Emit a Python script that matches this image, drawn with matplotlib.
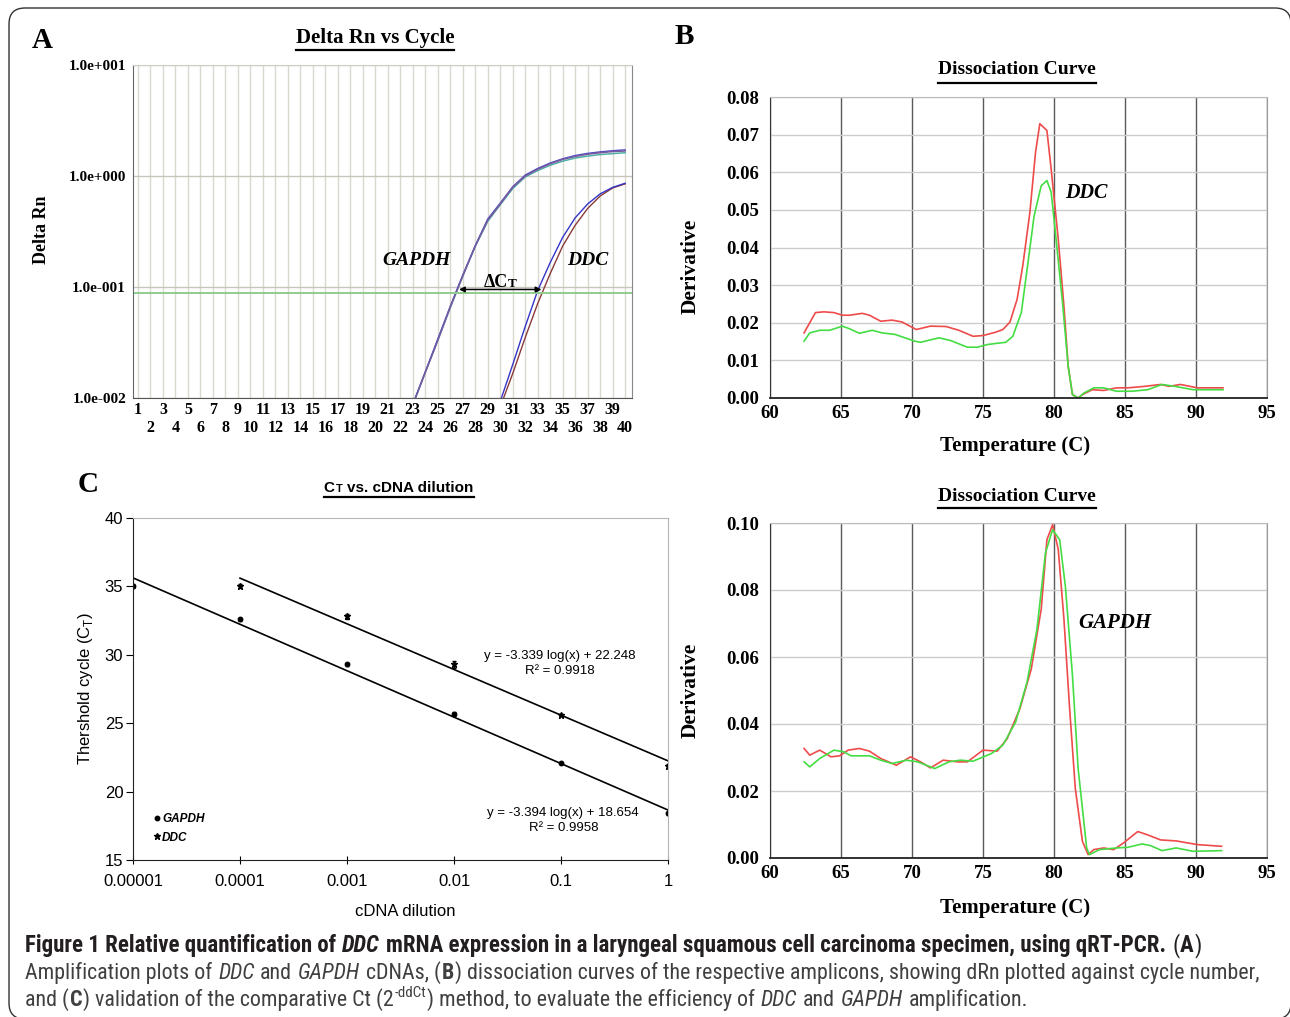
import numpy as np
import matplotlib
matplotlib.use('Agg')
import matplotlib.pyplot as plt
from matplotlib import font_manager
from matplotlib.patches import FancyBboxPatch
from matplotlib.lines import Line2D
from matplotlib.ticker import NullLocator, FixedLocator
from matplotlib.transforms import IdentityTransform

# ---- panel A: amplification plot (delta Rn per cycle) ----
cycles_gapdh = list(range(23, 41))
gapdh_rep1 = [0.0087, 0.017, 0.033, 0.066, 0.126, 0.234, 0.40, 0.56, 0.79, 1.00,
              1.15, 1.29, 1.41, 1.50, 1.57, 1.62, 1.66, 1.68]
gapdh_rep2 = [0.0086, 0.017, 0.033, 0.065, 0.125, 0.232, 0.39, 0.55, 0.77, 0.98,
              1.12, 1.25, 1.36, 1.45, 1.51, 1.56, 1.59, 1.62]
gapdh_rep3 = [0.0088, 0.0172, 0.034, 0.067, 0.128, 0.236, 0.41, 0.57, 0.80, 1.02,
              1.17, 1.31, 1.43, 1.53, 1.60, 1.65, 1.69, 1.72]
cycles_ddc = list(range(30, 41))
ddc_rep1 = [0.0093, 0.020, 0.044, 0.093, 0.166, 0.28, 0.42, 0.56, 0.69, 0.79, 0.86]
ddc_rep2 = [0.0083, 0.0166, 0.035, 0.071, 0.132, 0.234, 0.36, 0.51, 0.66, 0.78, 0.85]
threshold = 0.088
ct_gapdh, ct_ddc = 26.7, 33.3

# ---- panel B: DDC dissociation curve ----
b_red_t = [62.4, 63.2, 63.8, 64.5, 65.1, 65.6, 66.5, 67.0, 67.8, 68.6, 69.3, 70.3, 71.3,
           72.4, 73.3, 74.3, 75.0, 75.9, 76.4, 76.9, 77.4, 77.8, 78.3, 78.7, 79.0, 79.5,
           79.8, 80.3, 80.7, 81.0, 81.3, 81.7, 82.0, 82.7, 83.5, 84.4, 85.2, 86.4, 87.5,
           88.1, 88.9, 90.1, 91.9]
b_red_v = [0.0173, 0.0227, 0.0229, 0.0227, 0.022, 0.022, 0.0225, 0.022, 0.0204, 0.0207,
           0.0202, 0.0182, 0.0191, 0.019, 0.018, 0.0164, 0.0166, 0.0175, 0.0182, 0.0202,
           0.0262, 0.0351, 0.0493, 0.0653, 0.0729, 0.0711, 0.0609, 0.0422, 0.0244, 0.0084,
           0.0009, 0.0, 0.0009, 0.0022, 0.002, 0.0027, 0.0027, 0.0031, 0.0036, 0.0031,
           0.0036, 0.0027, 0.0027]
b_grn_t = [62.4, 62.8, 63.5, 64.2, 65.1, 65.6, 66.3, 67.2, 67.9, 68.8, 70.2, 70.6, 71.9,
           72.7, 73.9, 74.6, 75.3, 75.9, 76.6, 77.1, 77.7, 78.2, 78.6, 79.1, 79.5, 79.8,
           80.1, 80.6, 81.0, 81.3, 81.7, 82.1, 82.8, 83.5, 84.4, 85.5, 86.6, 87.6, 88.5,
           89.8, 91.9]
b_grn_v = [0.0151, 0.0173, 0.018, 0.018, 0.0191, 0.0184, 0.0172, 0.018, 0.0173, 0.0169,
           0.0151, 0.0148, 0.016, 0.0153, 0.0135, 0.0135, 0.0142, 0.0145, 0.0148, 0.0164,
           0.0227, 0.0369, 0.0484, 0.0564, 0.0578, 0.0547, 0.044, 0.0253, 0.0084, 0.0009,
           0.0, 0.0013, 0.0027, 0.0027, 0.0018, 0.0018, 0.0022, 0.0036, 0.0031, 0.0022,
           0.0022]

# ---- panel D: GAPDH dissociation curve ----
d_red_t = [62.4, 62.8, 63.5, 64.3, 64.9, 65.5, 66.3, 67.0, 67.8, 68.9, 69.9, 70.6, 71.3,
           72.2, 73.2, 73.9, 75.0, 76.0, 76.7, 77.6, 78.4, 79.1, 79.5, 79.9, 80.3, 80.7,
           81.1, 81.5, 82.0, 82.4, 82.8, 83.5, 84.2, 84.9, 85.9, 86.6, 87.5, 88.6, 90.1,
           91.8]
d_red_v = [0.0327, 0.0307, 0.0322, 0.0302, 0.0305, 0.0322, 0.0327, 0.0319, 0.0297, 0.0277,
           0.0302, 0.0287, 0.0269, 0.0292, 0.0287, 0.0287, 0.0322, 0.0319, 0.0356, 0.0446,
           0.0564, 0.0743, 0.095, 0.0995, 0.0921, 0.0713, 0.0446, 0.0208, 0.005, 0.001,
           0.0025, 0.003, 0.0025, 0.0045, 0.0079, 0.0069, 0.0054, 0.0051, 0.004, 0.0035]
d_grn_t = [62.4, 62.8, 63.5, 64.5, 65.2, 65.7, 67.0, 67.8, 68.6, 69.6, 70.4, 71.6, 72.6,
           73.4, 74.3, 75.6, 76.4, 77.3, 78.1, 78.8, 79.4, 79.9, 80.4, 80.8, 81.3, 81.7,
           82.3, 82.5, 83.2, 84.4, 85.2, 86.2, 86.8, 87.6, 88.6, 89.8, 91.8]
d_grn_v = [0.0287, 0.0272, 0.0297, 0.0322, 0.0317, 0.0305, 0.0305, 0.0292, 0.0282, 0.0292,
           0.0287, 0.0267, 0.0287, 0.0292, 0.0289, 0.0312, 0.0337, 0.0406, 0.0525, 0.0683,
           0.0911, 0.098, 0.095, 0.0812, 0.0545, 0.0267, 0.003, 0.001, 0.0025, 0.003,
           0.0032, 0.0042, 0.0037, 0.0022, 0.003, 0.002, 0.0022]

# ---- panel C: Ct vs cDNA dilution ----
dilution = [1e-5, 1e-4, 1e-3, 1e-2, 1e-1, 1]
dil_labels = ['0.00001', '0.0001', '0.001', '0.01', '0.1', '1']
gapdh_ct = [35.0, 32.6, 29.3, 25.7, 22.1, 18.4]
gapdh_err = [0.15, 0.1, 0.1, 0.15, 0.1, 0.1]
ddc_dil = [1e-4, 1e-3, 1e-2, 1e-1, 1]
ddc_ct = [35.0, 32.8, 29.3, 25.6, 21.9]
ddc_err = [0.15, 0.15, 0.25, 0.1, 0.15]
gapdh_fit = (-3.394, 18.654, 0.9958)
ddc_fit = (-3.339, 22.248, 0.9918)

W, H = 1290, 1017
fig = plt.figure(figsize=(W / 100, H / 100), dpi=100)
renderer = fig.canvas.get_renderer()
SERIF = 'Liberation Serif'
SANS = 'Liberation Sans'
names = {f.name for f in font_manager.fontManager.ttflist}
CAP = 'DejaVu Sans'
for cand in ['Liberation Sans Narrow', 'Roboto Condensed', 'Open Sans Condensed', 'Open Sans']:
    if cand in names:
        CAP = cand
        break


def box(l, t, r, b):
    return [l / W, 1 - b / H, (r - l) / W, (b - t) / H]


def ftext(x, y, s, **kw):
    kw.setdefault('ha', 'center')
    kw.setdefault('va', 'center')
    return fig.text(x / W, 1 - y / H, s, **kw)


def tw(t):
    return t.get_window_extent(renderer).width


def put_runs(x, y, runs, family, color='black', center=False):
    # runs: (text, size, weight, style, rise_px)
    texts = []
    x0 = x
    for s, size, weight, style, rise in runs:
        kw = dict(fontsize=size, family=family, weight=weight, style=style, color=color)
        a = fig.text(0, 0, 'a a', **kw)
        b = fig.text(0, 0, 'aa', **kw)
        sp = tw(a) - tw(b)
        a.remove()
        b.remove()
        core = s.strip(' ')
        lead = len(s) - len(s.lstrip(' '))
        trail = len(s) - len(s.rstrip(' '))
        x += lead * sp
        t = fig.text(x / W, 1 - (y - rise) / H, core, ha='left', va='baseline', **kw)
        texts.append(t)
        x += tw(t) + trail * sp + 0.8
    width = x - x0
    if center:
        for t in texts:
            t.set_x(t.get_position()[0] - width / 2 / W)
    return texts, width


def underline(t, y, lw=1.6):
    bb = t.get_window_extent(renderer)
    fig.add_artist(Line2D([bb.x0 / W, bb.x1 / W], [1 - y / H] * 2, color='black', lw=lw))


# border of the whole figure
fig.add_artist(FancyBboxPatch((9, -2), 1282, 1011, boxstyle='round,pad=0,rounding_size=16',
                              transform=IdentityTransform(), fill=False, ec='#333333', lw=1.0))

# ================= A =================
axA = fig.add_axes(box(133, 65, 632, 398))
axA.set_yscale('log')
axA.set_ylim(0.01, 10)
axA.set_xlim(0.6, 40.55)
axA.yaxis.set_major_locator(FixedLocator([0.01, 0.1, 1, 10]))
axA.yaxis.set_minor_locator(NullLocator())
axA.set_yticklabels(['1.0e-002', '1.0e-001', '1.0e+000', '1.0e+001'],
                    family=SERIF, weight='bold', fontsize=11)
odd = list(range(1, 41, 2))
even = list(range(2, 41, 2))
axA.set_xticks(odd)
axA.set_xticklabels([str(c) for c in odd], family=SERIF, weight='bold', fontsize=11.5)
axA.set_xticks(even, minor=True)
axA.set_xticklabels([str(c) for c in even], minor=True, family=SERIF, weight='bold', fontsize=11.5)
axA.tick_params(axis='x', which='major', length=0, pad=3)
axA.tick_params(axis='x', which='minor', length=0, pad=16)
axA.tick_params(axis='y', length=0, pad=5)
axA.grid(axis='x', which='both', color='#d8d8ce', lw=1)
axA.grid(axis='y', color='#c6c6bc', lw=1)
axA.set_axisbelow(True)
for side, c in [('left', '#666666'), ('bottom', '#555555'), ('top', '#cfcfc8'), ('right', '#888888')]:
    axA.spines[side].set_color(c)
axA.plot(cycles_gapdh, gapdh_rep2, color='#4fb0a8', lw=1.1)
axA.plot(cycles_gapdh, gapdh_rep3, color='#4b4bc8', lw=1.0)
axA.plot(cycles_gapdh, gapdh_rep1, color='#7a5a9e', lw=1.1)
axA.plot(cycles_ddc, ddc_rep2, color='#8a3a3a', lw=1.0)
axA.plot(cycles_ddc, ddc_rep1, color='#3535c8', lw=1.0)
axA.axhline(threshold, color='#8fcc8f', lw=1.4)
axA.annotate('', xy=(ct_gapdh, 0.095), xytext=(ct_ddc, 0.095),
             arrowprops=dict(arrowstyle='<|-|>', lw=1.1, color='black', shrinkA=0, shrinkB=0,
                             mutation_scale=8))
axA.text(30.6, 0.101, 'ΔC', ha='right', va='baseline', family=SERIF, weight='bold', fontsize=13)
axA.text(30.6, 0.101, 'T', ha='left', va='baseline', family=SERIF, weight='bold', fontsize=9.5)
axA.text(23.3, 0.175, 'GAPDH', ha='center', va='center', family=SERIF, weight='bold',
         style='italic', fontsize=14)
axA.text(37.0, 0.175, 'DDC', ha='center', va='center', family=SERIF, weight='bold',
         style='italic', fontsize=14)
ftext(42, 230, 'Delta Rn', rotation=90, family=SERIF, weight='bold', fontsize=13)
tA = ftext(375, 38, 'Delta Rn vs Cycle', family=SERIF, weight='bold', fontsize=15)


# ================= B and D =================
def melt_axes(rect, ymax, ystep, red_t, red_v, grn_t, grn_v):
    ax = fig.add_axes(rect)
    ax.set_xlim(60, 95)
    ax.set_ylim(0, ymax)
    ax.set_xticks(np.arange(60, 96, 5))
    ax.set_yticks(np.arange(0, ymax + ystep / 2, ystep))
    ax.set_yticklabels(['%.2f' % v for v in np.arange(0, ymax + ystep / 2, ystep)])
    for lab in ax.get_xticklabels() + ax.get_yticklabels():
        lab.set_family(SERIF)
        lab.set_weight('bold')
        lab.set_fontsize(13.5)
    ax.tick_params(length=0)
    ax.tick_params(axis='y', pad=8)
    ax.tick_params(axis='x', pad=5)
    ax.grid(axis='x', color='#5a5a5a', lw=1)
    ax.grid(axis='y', color='#cccccc', lw=1)
    ax.set_axisbelow(True)
    for side, c in [('left', '#333333'), ('bottom', '#222222'), ('top', '#bbbbbb'), ('right', '#999999')]:
        ax.spines[side].set_color(c)
    ax.spines['bottom'].set_linewidth(1.3)
    ax.plot(red_t, red_v, color='#ee4b4b', lw=1.2)
    ax.plot(grn_t, grn_v, color='#44dd44', lw=1.2)
    return ax


axB = melt_axes(box(770, 97, 1267, 398), 0.08, 0.01, b_red_t, b_red_v, b_grn_t, b_grn_v)
axB.text(82.3, 0.0545, 'DDC', ha='center', va='center', family=SERIF, weight='bold',
         style='italic', fontsize=14.5)
axD = melt_axes(box(770, 523, 1267, 858), 0.10, 0.02, d_red_t, d_red_v, d_grn_t, d_grn_v)
axD.text(84.3, 0.070, 'GAPDH', ha='center', va='center', family=SERIF, weight='bold',
         style='italic', fontsize=15)
tB = ftext(1017, 70, 'Dissociation Curve', family=SERIF, weight='bold', fontsize=14)
tD = ftext(1017, 496, 'Dissociation Curve', family=SERIF, weight='bold', fontsize=14)
for y in (266, 690):
    ftext(691, y, 'Derivative', rotation=90, family=SERIF, weight='bold', fontsize=15.5)
for y in (446, 908):
    ftext(1015, y, 'Temperature (C)', family=SERIF, weight='bold', fontsize=15)

# ================= C =================
axC = fig.add_axes(box(133, 518, 668, 860))
axC.set_xscale('log')
axC.set_xlim(1e-5, 1)
axC.set_ylim(15, 40)
axC.xaxis.set_major_locator(FixedLocator(dilution))
axC.xaxis.set_minor_locator(NullLocator())
axC.set_xticklabels(dil_labels, family=SANS, fontsize=12)
axC.set_yticks(range(15, 41, 5))
axC.set_yticklabels([str(v) for v in range(15, 41, 5)], family=SANS, fontsize=12)
axC.tick_params(axis='x', direction='inout', length=6, pad=7)
axC.tick_params(axis='y', direction='out', length=5, pad=2)
for side, c in [('left', '#222222'), ('bottom', '#222222'), ('top', '#b5b5b5'), ('right', '#b5b5b5')]:
    axC.spines[side].set_color(c)
for xs, slope, icpt in [([dilution[0], dilution[-1]], gapdh_fit[0], gapdh_fit[1]),
                        ([ddc_dil[0], ddc_dil[-1]], ddc_fit[0], ddc_fit[1])]:
    xs = np.array(xs)
    axC.plot(xs, slope * np.log10(xs) + icpt, color='black', lw=1.2)
axC.errorbar(dilution, gapdh_ct, yerr=gapdh_err, fmt='o', ms=3.2, color='black',
             elinewidth=0.8, capsize=1.5)
axC.errorbar(ddc_dil, ddc_ct, yerr=ddc_err, fmt='*', ms=4.5, color='black',
             elinewidth=0.8, capsize=1.5)
h1 = Line2D([], [], marker='o', ms=3.2, color='black', ls='none')
h2 = Line2D([], [], marker='*', ms=4.5, color='black', ls='none')
axC.legend([h1, h2], ['GAPDH', 'DDC'], loc='lower left', bbox_to_anchor=(0.02, 0.017),
           frameon=False, handlelength=0.5, handletextpad=0.15, labelspacing=0.55,
           prop=dict(family=SANS, weight='bold', style='italic', size=8.5))
eq_kw = dict(ha='center', va='center', family=SANS, fontsize=9.5)
axC.text(0.098, 29.9, 'y = %.3f log(x) + %.3f' % (ddc_fit[0], ddc_fit[1]), **eq_kw)
axC.text(0.098, 28.85, 'R² = %.4f' % ddc_fit[2], **eq_kw)
axC.text(0.105, 18.44, 'y = %.3f log(x) + %.3f' % (gapdh_fit[0], gapdh_fit[1]), **eq_kw)
axC.text(0.105, 17.35, 'R² = %.4f' % gapdh_fit[2], **eq_kw)
ftext(85, 689, 'Thershold cycle (C$_\\mathregular{T}$)', rotation=90, family=SANS, fontsize=12)
ftext(405, 911, 'cDNA dilution', family=SANS, fontsize=12)
tC, wC = put_runs(399, 492, [('C', 11, 'bold', 'normal', 0), ('T', 8, 'bold', 'normal', 0),
                             (' vs. cDNA dilution', 11, 'bold', 'normal', 0)], SANS, center=True)

# panel letters
for x, y, s in [(42, 40, 'A'), (684, 37, 'B'), (88, 485, 'C')]:
    ftext(x, y, s, family=SERIF, weight='bold', fontsize=21)

# title underlines
underline(tA, 50)
underline(tB, 83)
underline(tD, 508)
bb0 = tC[0].get_window_extent(renderer)
bb1 = tC[-1].get_window_extent(renderer)
fig.add_artist(Line2D([bb0.x0 / W, bb1.x1 / W], [1 - 497 / H] * 2, color='black', lw=1.6))


# ================= caption =================
def runs_of(parts, size):
    out = []
    for s, kind in parts:
        w = 'bold' if kind in ('b', 'bi') else 'normal'
        st = 'italic' if kind in ('i', 'bi') else 'normal'
        if kind == 'sup':
            out.append((s, size * 0.68, 'normal', 'normal', size * 0.55))
        else:
            out.append((s, size, w, st, 0))
    return out


line1 = [('Figure 1 Relative quantification of ', 'b'), ('DDC', 'bi'),
         (' mRNA expression in a laryngeal squamous cell carcinoma specimen, using qRT-PCR.', 'b'),
         (' (', 'n'), ('A', 'b'), (')', 'n')]
line2 = [('Amplification plots of ', 'n'), ('DDC', 'i'), (' and ', 'n'), ('GAPDH', 'i'),
         (' cDNAs, (', 'n'), ('B', 'b'),
         (') dissociation curves of the respective amplicons, showing dRn plotted against cycle number,', 'n')]
line3 = [('and (', 'n'), ('C', 'b'), (') validation of the comparative Ct (2', 'n'), ('-ddCt', 'sup'),
         (') method, to evaluate the efficiency of ', 'n'), ('DDC', 'i'), (' and ', 'n'),
         ('GAPDH', 'i'), (' amplification.', 'n')]


def fit_size(parts, target):
    probe, wprobe = put_runs(25, 2000, runs_of(parts, 10), CAP)
    for t in probe:
        t.remove()
    return 10 * target / wprobe


csize = fit_size(line2, 1237)
c1size = fit_size(line1, 1180)
put_runs(25, 952, runs_of(line1, c1size), CAP, color='#231f20')
put_runs(25, 979, runs_of(line2, csize), CAP, color='#404040')
put_runs(25, 1006, runs_of(line3, csize), CAP, color='#404040')

fig.savefig('out.png', dpi=100)
